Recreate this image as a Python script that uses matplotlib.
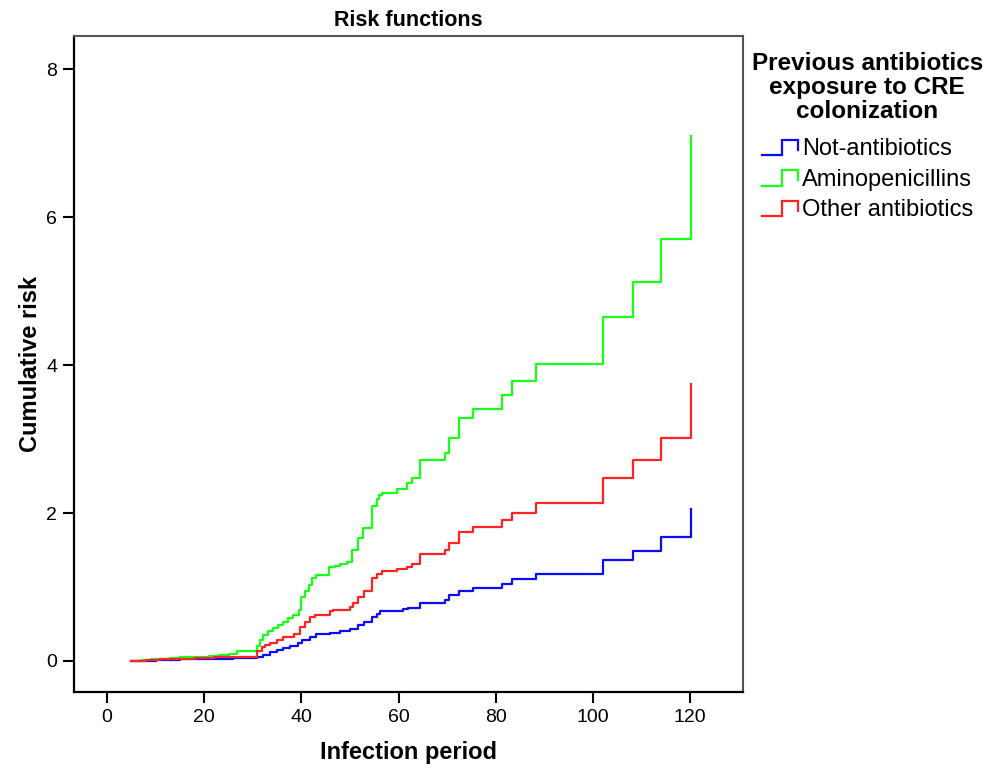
import matplotlib
matplotlib.use("Agg")
import matplotlib.pyplot as plt
from matplotlib.lines import Line2D
from matplotlib.legend_handler import HandlerBase

plt.rcParams['font.family'] = ['Liberation Sans', 'DejaVu Sans']

# step times and cumulative risk after each step
t_not = [5, 10, 15, 21, 26, 30.8, 32, 33.5, 35, 36.3, 37.7, 39.4, 40.1, 41.8, 43.1,
         45.9, 48, 50, 51.7, 52.8, 54.5, 55.5, 56.2, 59.6, 60.9, 62, 64.5, 69.5,
         70.4, 72.4, 75.4, 81.4, 83.4, 88.3, 102.1, 108.2, 114.1, 120.1]
r_not = [0, 0.01, 0.02, 0.03, 0.04, 0.05, 0.08, 0.12, 0.15, 0.18, 0.20, 0.24, 0.28,
         0.33, 0.36, 0.38, 0.40, 0.43, 0.49, 0.53, 0.60, 0.64, 0.67, 0.68, 0.70,
         0.72, 0.78, 0.82, 0.89, 0.95, 0.99, 1.04, 1.11, 1.17, 1.36, 1.49, 1.67, 2.05]

t_amino = [5, 7, 9, 11, 13, 15, 18, 21, 23, 25, 26.8, 30.8, 31.5, 32.2, 33.2, 34.2,
           35.2, 36.3, 37.3, 38.3, 39.6, 39.9, 40.8, 41.6, 42.1, 43.1, 45.7, 47, 48,
           49.3, 50.5, 51.7, 52.6, 54.5, 55.5, 56.0, 56.5, 59.6, 61.7, 62.7, 64.5,
           69.5, 70.4, 72.4, 75.4, 81.4, 83.4, 88.3, 102.1, 108.2, 114.1, 120.1]
r_amino = [0, 0.01, 0.02, 0.03, 0.04, 0.05, 0.06, 0.07, 0.08, 0.09, 0.13, 0.20, 0.28,
           0.35, 0.40, 0.44, 0.49, 0.53, 0.58, 0.62, 0.69, 0.87, 0.94, 1.03, 1.12,
           1.16, 1.27, 1.29, 1.31, 1.34, 1.50, 1.66, 1.80, 2.09, 2.19, 2.24, 2.27,
           2.33, 2.40, 2.48, 2.72, 2.81, 3.02, 3.28, 3.41, 3.60, 3.78, 4.01, 4.65,
           5.12, 5.71, 7.10]

t_other = [5, 8, 11, 14, 18, 22, 25, 30.8, 31.8, 32.5, 33.5, 34.9, 36.3, 38.4, 39.7,
           40.7, 41.8, 42.8, 45.9, 46.6, 50, 50.7, 51.7, 52.8, 54.5, 55.5, 56.5,
           59.6, 61.7, 62.7, 64.5, 69.5, 70.4, 72.4, 75.4, 81.4, 83.4, 88.3, 102.1,
           108.2, 114.1, 120.1]
r_other = [0, 0.01, 0.02, 0.03, 0.04, 0.05, 0.06, 0.13, 0.19, 0.22, 0.24, 0.28, 0.33,
           0.37, 0.46, 0.53, 0.60, 0.62, 0.67, 0.69, 0.73, 0.78, 0.87, 0.94, 1.12,
           1.18, 1.21, 1.24, 1.27, 1.31, 1.45, 1.50, 1.60, 1.75, 1.81, 1.91, 2.00,
           2.13, 2.47, 2.72, 3.02, 3.75]

labels = ['Not-antibiotics', 'Aminopenicillins', 'Other antibiotics']
colors = ['#0a0aff', '#1aff1a', '#ff2424']


class StepHandler(HandlerBase):
    # legend icon drawn as a little step
    def create_artists(self, legend, orig_handle, xdescent, ydescent, width,
                       height, fontsize, trans):
        x0, y0 = -xdescent, -ydescent
        xs = [x0, x0 + width * 0.55, x0 + width * 0.55, x0 + width, x0 + width]
        ys = [y0, y0, y0 + height * 0.95, y0 + height * 0.95, y0 + height * 0.35]
        ln = Line2D(xs, ys, color=orig_handle.get_color(), lw=1.6,
                    solid_joinstyle='miter', transform=trans)
        return [ln]


fig = plt.figure(figsize=(9.95, 7.69), dpi=100)
ax = fig.add_axes([0.0744, 0.1001, 0.6723, 0.8531])

handles = []
for t, r, c, lab in zip([t_not, t_amino, t_other], [r_not, r_amino, r_other],
                        colors, labels):
    h, = ax.step(t, r, where='post', color=c, lw=1.6, label=lab)
    handles.append(h)

ax.set_xlim(-6.8, 130.9)
ax.set_ylim(-0.42, 8.45)
ax.set_xticks(range(0, 121, 20))
ax.set_yticks([0, 2, 4, 6, 8])
ax.tick_params(direction='out', length=8, width=1.5, labelsize=14, pad=4)

for s in ['left', 'bottom']:
    ax.spines[s].set_linewidth(1.6)
    ax.spines[s].set_color('black')
for s in ['top', 'right']:
    ax.spines[s].set_linewidth(1.5)
    ax.spines[s].set_color('#555555')

ax.set_title('Risk functions', fontsize=15.5, fontweight='bold', pad=7)
ax.set_xlabel('Infection period', fontsize=17, fontweight='bold', labelpad=11)
ax.set_ylabel('Cumulative risk', fontsize=17, fontweight='bold', labelpad=3)

leg = fig.legend(handles=handles, labels=labels,
                 handler_map={Line2D: StepHandler()},
                 title='Previous antibiotics\nexposure to CRE\ncolonization',
                 loc='upper left', bbox_to_anchor=(0.734, 0.960),
                 frameon=False, fontsize=17, handlelength=1.55,
                 handletextpad=0.15, labelspacing=0.36, alignment='center',
                 title_fontproperties={'weight': 'bold', 'size': 17.5})
leg.get_title().set_linespacing(1.06)
leg.get_title().set_multialignment('center')
leg._legend_box.sep = 11

fig.savefig('out.png', dpi=100)
